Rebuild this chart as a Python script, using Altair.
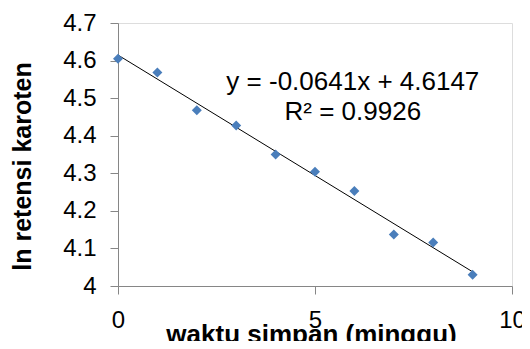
import altair as alt
import pandas as pd

weeks = [0, 1, 2, 3, 4, 5, 6, 7, 8, 9]
ln_retensi = [4.605, 4.568, 4.468, 4.427, 4.350, 4.304, 4.253, 4.137, 4.116, 4.030]
slope = -0.0641
intercept = 4.6147
trend_x = [0, 9]
eq_lines = ["y = -0.0641x + 4.6147", "R² = 0.9926"]
eq_x = [5.96, 5.96]
eq_y = [4.521, 4.441]

pts = pd.DataFrame({"x": weeks, "y": ln_retensi})
trend = pd.DataFrame({"x": trend_x})
eq = pd.DataFrame({"x": eq_x, "y": eq_y, "t": eq_lines})

FONT = "Liberation Sans"
xs = alt.Scale(domain=[0, 10], nice=False, zero=False)
ys = alt.Scale(domain=[4.0, 4.7], nice=False, zero=False)

xaxis = alt.Axis(tickCount=2, title="waktu simpan (minggu)", grid=False,
                 domainColor="#868686", tickColor="#868686", tickSize=8,
                 labelFontSize=24, labelFont=FONT, labelColor="#000000", labelPadding=14,
                 labelOverlap=False,
                 titleFontSize=26, titleFont=FONT, titleFontWeight="bold", titleColor="#000000",
                 titleBaseline="alphabetic", titleY=56, titleX=193, titleAlign="center",
                 labelFlush=False)
yaxis = alt.Axis(tickCount=7, format=".1~f",
                 title="ln retensi karoten", grid=False, labelOverlap=False,
                 domainColor="#868686", tickColor="#868686", tickSize=8,
                 labelFontSize=24, labelFont=FONT, labelColor="#000000", labelPadding=14,
                 titleFontSize=25, titleFont=FONT, titleFontWeight="bold", titleColor="#000000",
                 titleBaseline="alphabetic", titleX=-88, titleY=143, titleAngle=270,
                 titleAlign="center", labelFlush=False)

points = alt.Chart(pts).mark_point(shape="diamond", filled=True, size=100, color="#4A7EBB", opacity=1).encode(
    x=alt.X("x:Q", scale=xs, axis=xaxis),
    y=alt.Y("y:Q", scale=ys, axis=yaxis),
)

line = alt.Chart(trend).transform_calculate(
    y=f"{slope} * datum.x + {intercept}"
).mark_line(color="#000000", strokeWidth=1).encode(
    x=alt.X("x:Q", scale=xs),
    y=alt.Y("y:Q", scale=ys),
)

text = alt.Chart(eq).mark_text(font=FONT, fontSize=26, color="#000000", align="center", baseline="alphabetic").encode(
    x=alt.X("x:Q", scale=xs),
    y=alt.Y("y:Q", scale=ys),
    text="t:N",
)

chart = alt.layer(line, points, text).properties(
    width=394, height=263,
    autosize=alt.AutoSizeParams(type="none"),
    padding={"left": 110, "top": 15, "right": 10, "bottom": 55},
).configure_view(stroke=None).configure(background="white")

chart.save("out.html", embed_options={"renderer": "svg", "actions": False})
